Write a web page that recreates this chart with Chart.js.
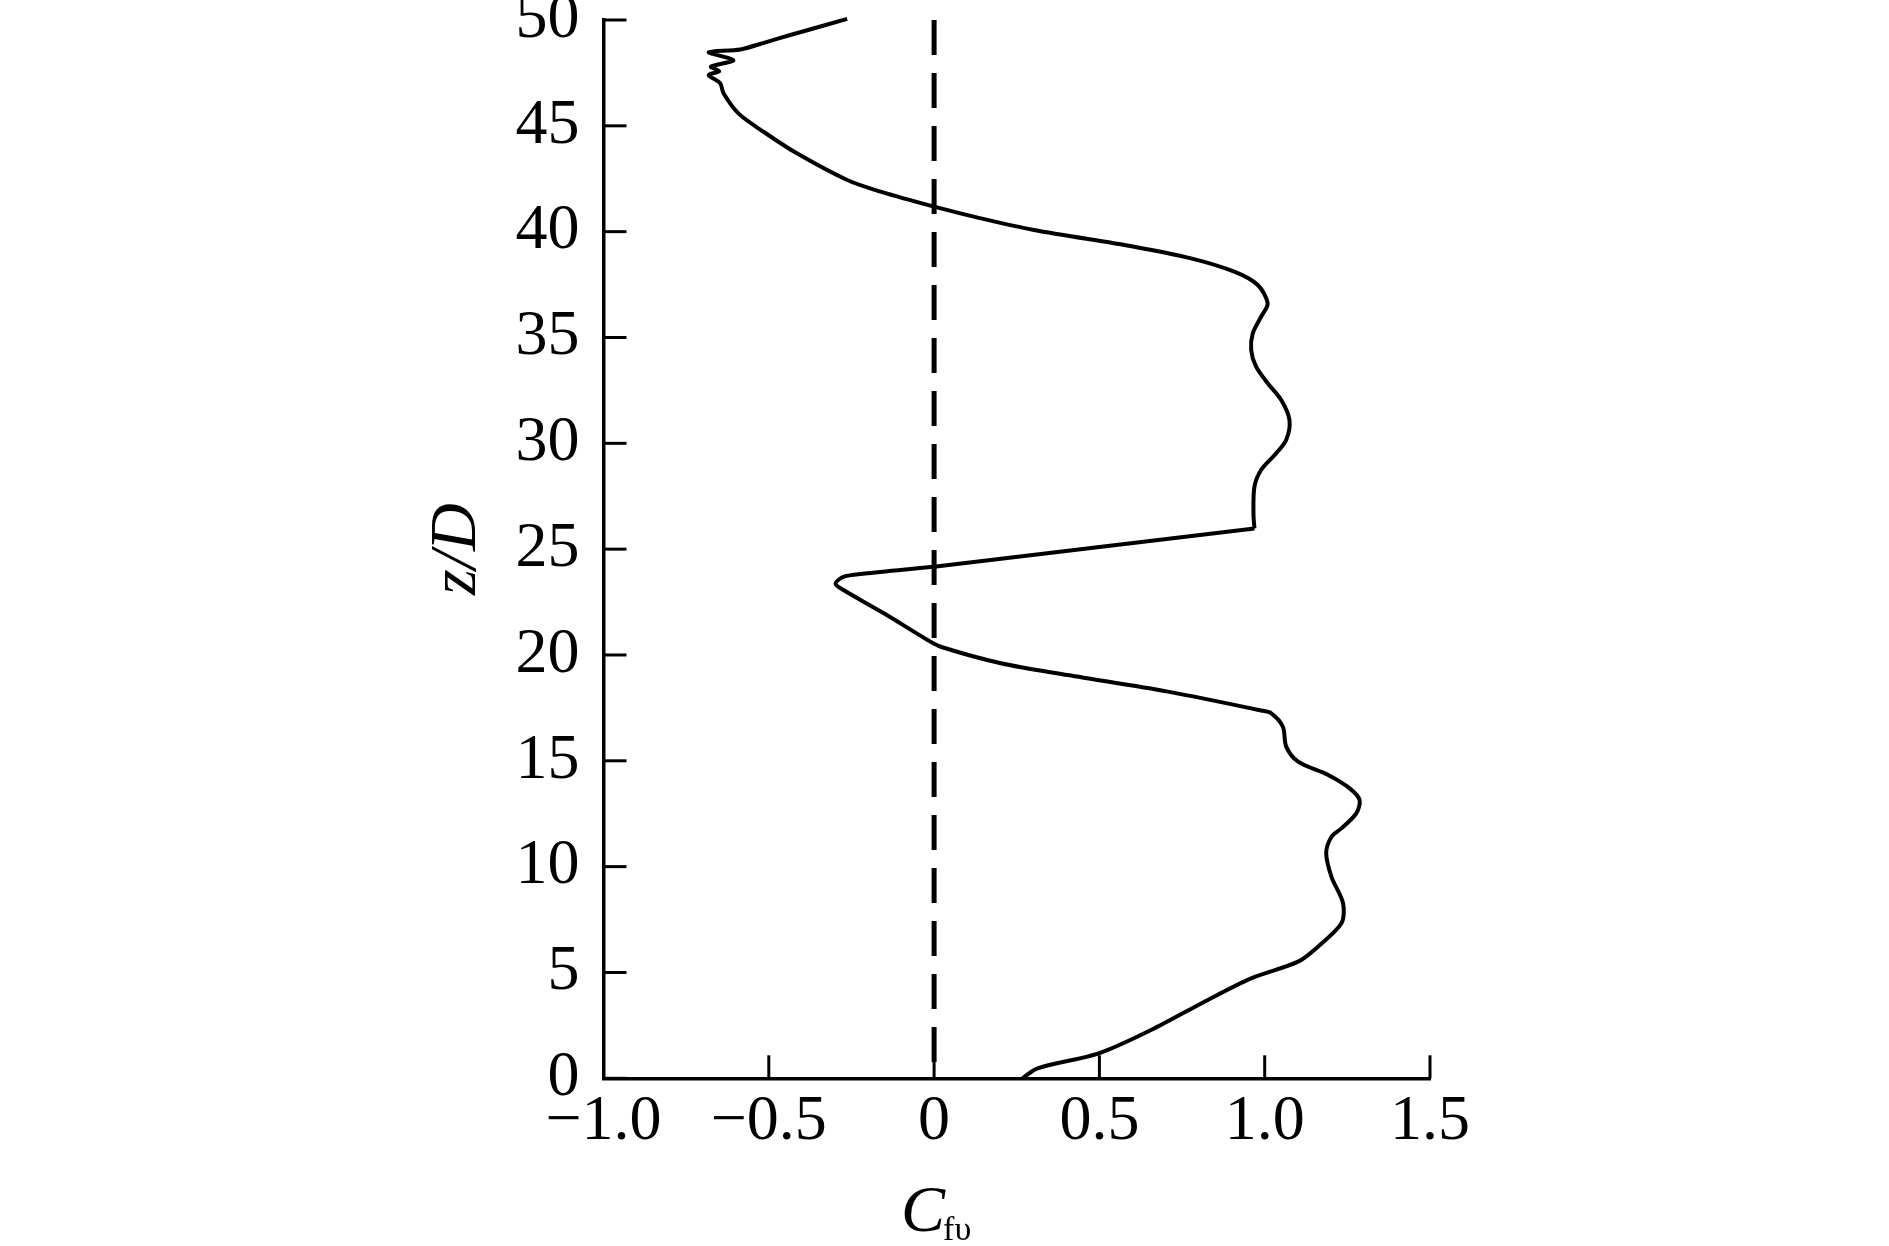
<!DOCTYPE html>
<html>
<head>
<meta charset="utf-8">
<script src="https://cdn.jsdelivr.net/npm/chart.js@4.4.0/dist/chart.umd.min.js"></script>
<style>
  html, body { margin: 0; padding: 0; background: #fff; }
  #wrap { width: 1889px; height: 1246px; }
</style>
</head>
<body>
<div id="wrap"><canvas id="chart" width="1889" height="1246"></canvas></div>
<script>
const X_TICKS = [-1.0, -0.5, 0, 0.5, 1.0, 1.5];
const X_TICK_LABELS = ["−1.0", "−0.5", "0", "0.5", "1.0", "1.5"];
const Y_TICKS = [0, 5, 10, 15, 20, 25, 30, 35, 40, 45, 50];
const Y_TICK_LABELS = ["0", "5", "10", "15", "20", "25", "30", "35", "40", "45", "50"];

// C_fv along the height z/D, read bottom to top
const cfv = [
  0.267, 0.313, 0.498, 0.656, 0.818, 0.959, 1.101, 1.161, 1.232, 1.237,
  1.202, 1.186, 1.202, 1.232, 1.277, 1.287, 1.257, 1.192, 1.101, 1.065,
  1.055, 1.020, 0.989, 0.707, 0.404, 0.202, 0.020, -0.020, -0.152, -0.283,
  -0.298, -0.273, -0.202, 0.0, 0.969, 0.966, 0.969, 0.989, 1.030, 1.065,
  1.075, 1.050, 1.009, 0.974, 0.959, 0.964, 0.989, 1.009, 0.979, 0.908,
  0.777, 0.605, 0.302, 0.141, 0.0, -0.162, -0.263, -0.415, -0.516, -0.592,
  -0.637, -0.647, -0.682, -0.650, -0.675, -0.607, -0.682, -0.586, -0.505, -0.435,
  -0.263
];
const zd = [
  0.0, 0.47, 1.18, 2.28, 3.62, 4.72, 5.51, 6.22, 7.32, 8.27,
  9.52, 10.63, 11.41, 11.81, 12.52, 13.15, 13.70, 14.33, 14.96, 15.67,
  16.61, 17.24, 17.38, 18.27, 19.05, 19.61, 20.39, 20.71, 21.97, 23.15,
  23.39, 23.70, 23.86, 24.17, 25.98, 26.69, 27.95, 28.74, 29.45, 30.16,
  31.10, 32.05, 32.84, 33.62, 34.41, 35.20, 35.98, 36.61, 37.48, 38.11,
  38.74, 39.29, 40.08, 40.63, 41.18, 41.89, 42.44, 43.70, 44.72, 45.59,
  46.54, 47.01, 47.40, 47.58, 47.80, 48.10, 48.48, 48.61, 48.97, 49.29,
  50.05
];

// dashed reference line at C_fv = 0
const refX = [0, 0];
const refZ = [50, 0];

const FONT = "'Liberation Serif', 'Times New Roman', serif";

function pts(xs, ys, from, to) {
  const out = [];
  for (let i = from; i <= to; i++) out.push({ x: xs[i], y: ys[i] });
  return out;
}

// smooth lower part, straight jump at z/D ≈ 25, smooth upper part
const pieces = [
  { from: 0, to: 33, tension: 0.3 },
  { from: 33, to: 34, tension: 0 },
  { from: 34, to: cfv.length - 1, tension: 0.3 },
];

const datasets = pieces.map(p => ({
  data: pts(cfv, zd, p.from, p.to),
  showLine: true,
  borderColor: "#000",
  borderWidth: 4,
  pointRadius: 0,
  tension: p.tension,
  clip: false,
}));
datasets.push({
  data: pts(refX, refZ, 0, 1),
  showLine: true,
  borderColor: "#000",
  borderWidth: 5,
  borderDash: [35, 18],
  pointRadius: 0,
  clip: false,
});

const axisDecor = {
  id: "axisDecor",
  afterDraw(chart) {
    const { ctx, chartArea, scales } = chart;
    ctx.save();
    ctx.strokeStyle = "#000";
    ctx.lineWidth = 3;
    // inward tick marks
    scales.x.ticks.forEach(t => {
      const px = scales.x.getPixelForValue(t.value);
      ctx.beginPath();
      ctx.moveTo(px, chartArea.bottom);
      ctx.lineTo(px, chartArea.bottom - 23);
      ctx.stroke();
    });
    scales.y.ticks.forEach(t => {
      const py = scales.y.getPixelForValue(t.value);
      ctx.beginPath();
      ctx.moveTo(chartArea.left, py);
      ctx.lineTo(chartArea.left + 23, py);
      ctx.stroke();
    });

    // x title: C with subscript fv
    ctx.fillStyle = "#000";
    ctx.textBaseline = "alphabetic";
    ctx.textAlign = "left";
    const x0 = scales.x.getPixelForValue(0) - 33;
    ctx.font = "italic 66px " + FONT;
    ctx.fillText("C", x0, 1231);
    const cw = ctx.measureText("C").width;
    ctx.font = "34px " + FONT;
    ctx.fillText("fυ", x0 + cw - 2, 1240);

    // y title
    ctx.translate(475, (chartArea.top + chartArea.bottom) / 2);
    ctx.rotate(-Math.PI / 2);
    ctx.font = "italic 66px " + FONT;
    ctx.textAlign = "center";
    ctx.fillText("z/D", 0, 0);
    ctx.restore();
  }
};

new Chart(document.getElementById("chart"), {
  type: "scatter",
  data: { datasets },
  plugins: [axisDecor],
  options: {
    responsive: false,
    animation: false,
    devicePixelRatio: 1,
    layout: { padding: { top: 20, right: 459, bottom: 0, left: 0 } },
    plugins: { legend: { display: false }, tooltip: { enabled: false } },
    scales: {
      x: {
        type: "linear",
        min: -1,
        max: 1.5,
        afterBuildTicks: s => { s.ticks = X_TICKS.map(v => ({ value: v })); },
        afterFit: s => { s.height = 1246 - 1078.3; s.paddingLeft = 0; s.paddingRight = 0; },
        ticks: {
          autoSkip: false,
          maxRotation: 0,
          padding: 5,
          color: "#000",
          font: { family: FONT, size: 64 },
          callback: (v, i) => X_TICK_LABELS[i],
        },
        grid: { display: true, drawOnChartArea: false, drawTicks: false },
        border: { display: true, color: "#000", width: 3.5 },
      },
      y: {
        type: "linear",
        min: 0,
        max: 50,
        afterBuildTicks: s => { s.ticks = Y_TICKS.map(v => ({ value: v })); },
        afterFit: s => { s.width = 603.5; s.paddingTop = 0; s.paddingBottom = 0; },
        ticks: {
          autoSkip: false,
          padding: 24,
          color: "#000",
          font: { family: FONT, size: 64 },
          callback: (v, i) => Y_TICK_LABELS[i],
        },
        grid: { display: true, drawOnChartArea: false, drawTicks: false },
        border: { display: true, color: "#000", width: 3.5 },
      },
    },
  },
});
</script>
</body>
</html>
